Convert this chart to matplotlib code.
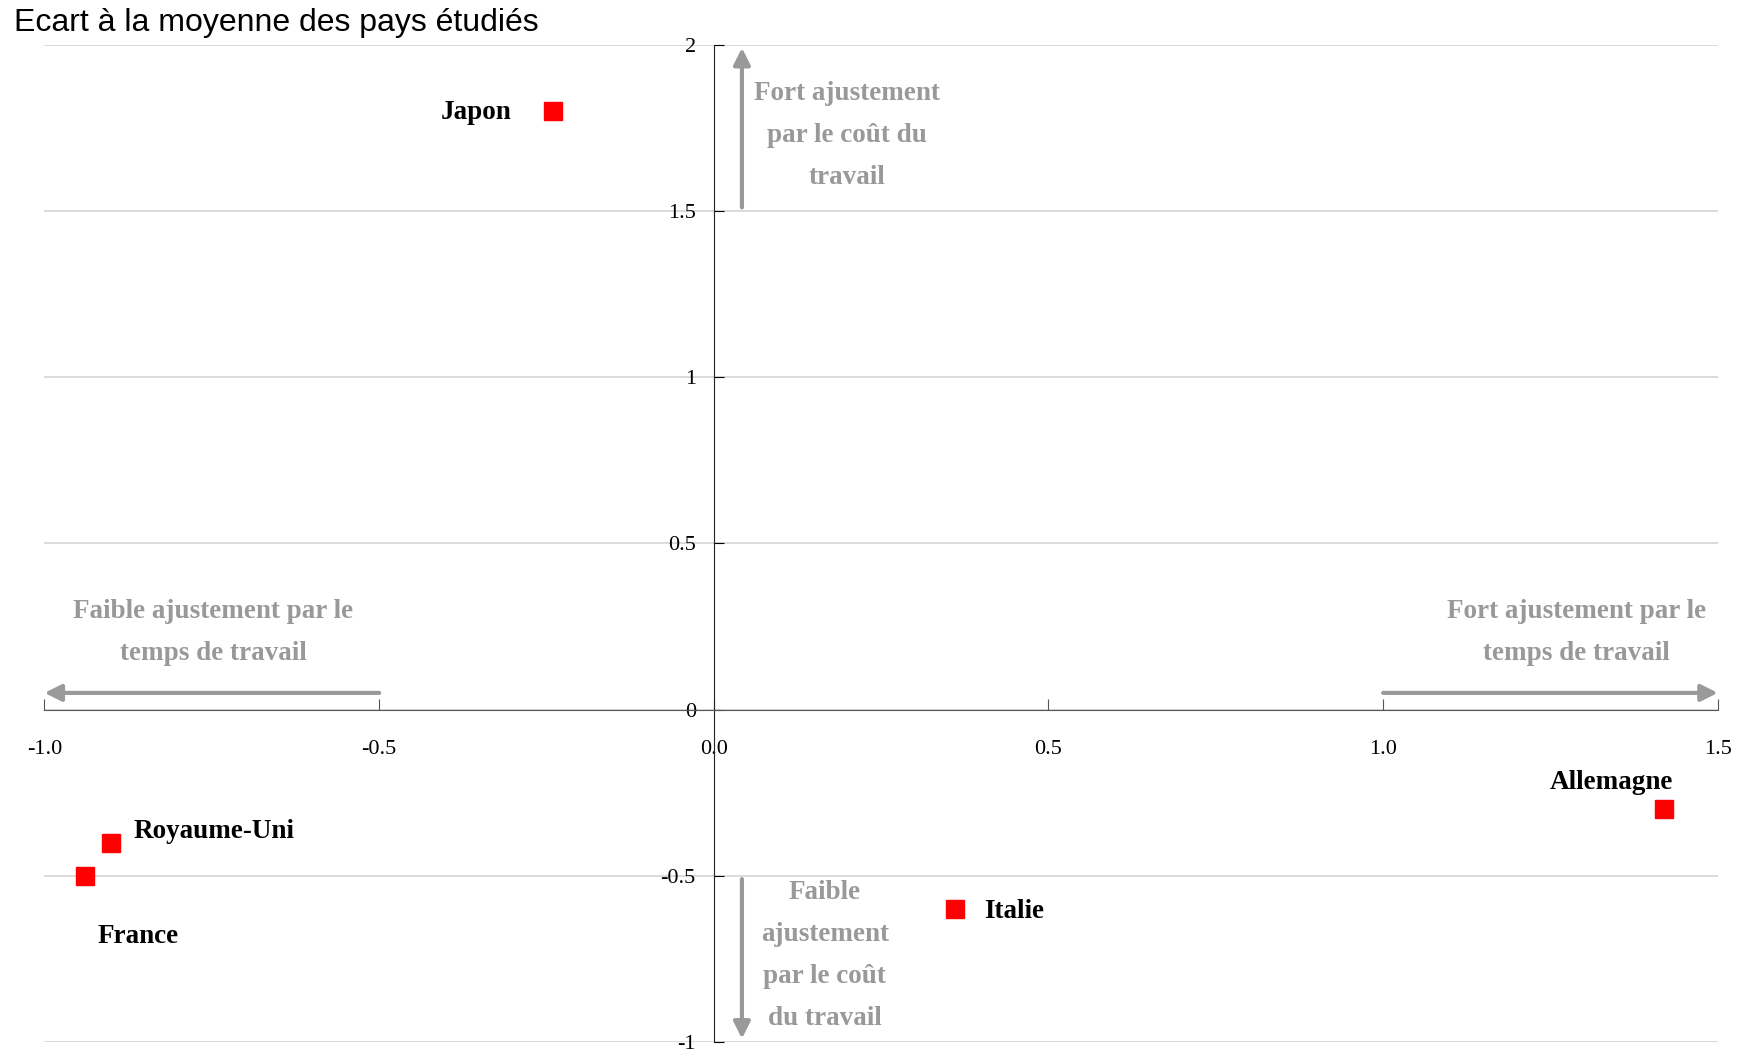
import numpy as np
import matplotlib.pyplot as plt

# donnees
pays = ['Japon', 'Royaume-Uni', 'France', 'Italie', 'Allemagne']
ecart_temps = [-0.24, -0.9, -0.94, 0.36, 1.42]   # axe horizontal
ecart_cout = [1.8, -0.4, -0.5, -0.6, -0.3]       # axe vertical

xticks = [-1.0, -0.5, 0.0, 0.5, 1.0, 1.5]
yticks = [-1, -0.5, 0, 0.5, 1, 1.5, 2]

serif = 'Liberation Serif'
gris = '#999999'

fig = plt.figure(figsize=(17.44, 10.5), dpi=100)
ax = fig.add_axes([0.0255, 0.0076, 0.9595, 0.95])

for y in yticks:
    ax.axhline(y, color='#d4d4d4', lw=1.2, zorder=0)

ax.plot(ecart_temps, ecart_cout, 's', color='#ff0000', markersize=13, zorder=5)

# etiquettes des pays (decalage en points)
offsets = {
    'Japon': (-30, -1, 'right', 'center'),
    'Royaume-Uni': (16, 8, 'left', 'center'),
    'France': (9, -44, 'left', 'center'),
    'Italie': (21, -2, 'left', 'center'),
    'Allemagne': (-38, 19, 'center', 'center'),
}
for nom, x, y in zip(pays, ecart_temps, ecart_cout):
    dx, dy, ha, va = offsets[nom]
    ax.annotate(nom, (x, y), xytext=(dx, dy), textcoords='offset points',
                ha=ha, va=va, fontsize=19.5, fontweight='bold', family=serif)

ax.set_xlim(-1, 1.5)
ax.set_ylim(-1, 2)
ax.spines['left'].set_position(('data', 0))
ax.spines['bottom'].set_position(('data', 0))
ax.spines['right'].set_visible(False)
ax.spines['top'].set_visible(False)
ax.spines['bottom'].set_color('#555555')
ax.spines['left'].set_color('#222222')

ax.set_xticks(xticks)
ax.set_xticklabels(['%.1f' % v for v in xticks], family=serif, fontsize=16)
ax.set_yticks(yticks)
ax.set_yticklabels(['%g' % v for v in yticks], family=serif, fontsize=16)
ax.tick_params(axis='x', direction='in', length=8, pad=22, color='#555555')
ax.tick_params(axis='y', direction='in', length=7, pad=13)

# fleches et commentaires
fleche = dict(arrowstyle='-|>', color=gris, lw=3, mutation_scale=25, shrinkA=0, shrinkB=0)
ax.annotate('', xy=(0.042, 1.99), xytext=(0.042, 1.51), arrowprops=fleche)
ax.annotate('', xy=(0.042, -0.99), xytext=(0.042, -0.51), arrowprops=fleche)
ax.annotate('', xy=(-1.0, 0.05), xytext=(-0.5, 0.05), arrowprops=fleche)
ax.annotate('', xy=(1.5, 0.05), xytext=(1.0, 0.05), arrowprops=fleche)

txt = dict(color=gris, fontsize=19.5, fontweight='bold', family=serif,
           ha='center', va='center', linespacing=1.9)
ax.text(0.199, 1.726, 'Fort ajustement\npar le coût du\ntravail', **txt)
ax.text(-0.748, 0.231, 'Faible ajustement par le\ntemps de travail', **txt)
ax.text(1.289, 0.231, 'Fort ajustement par le\ntemps de travail', **txt)
ax.text(0.166, -0.739, 'Faible\najustement\npar le coût\ndu travail', **txt)

fig.text(0.008, 0.978, 'Ecart à la moyenne des pays étudiés', family='Liberation Sans',
         fontsize=23, ha='left', va='center')

fig.savefig('out.png', dpi=100)
